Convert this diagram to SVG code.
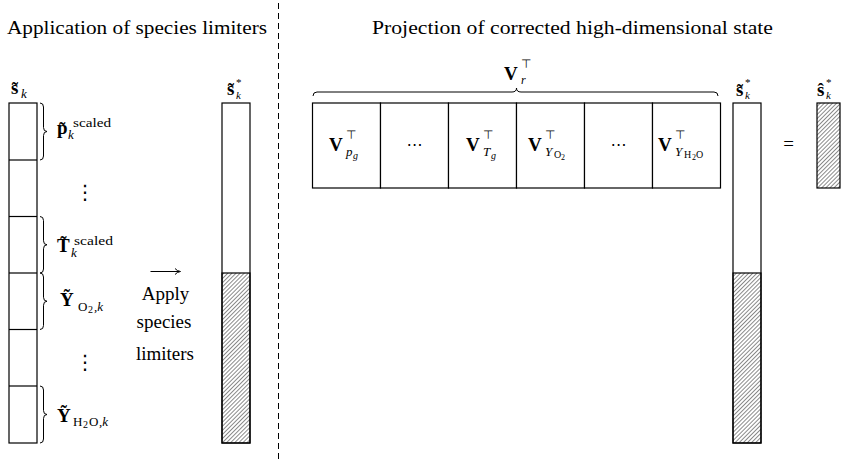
<svg xmlns="http://www.w3.org/2000/svg" width="847" height="461" viewBox="0 0 847 461">
<defs>
<pattern id="hatch" patternUnits="userSpaceOnUse" width="2.9" height="2.9" patternTransform="rotate(45)">
<line x1="0" y1="0" x2="0" y2="2.9" stroke="#000" stroke-width="0.9"/>
</pattern>
<style>
text{fill:#000}
.ti{font-size:19px}
.b{font-weight:bold;font-size:19px}
.i{font-style:italic}
.sm{font-size:13px}
.st{font-size:11px}
.xs{font-size:10px}
.xxs{font-size:8px}
.sym{font-family:"DejaVu Sans",sans-serif;font-size:12px}
.box{fill:#fff;stroke:#000;stroke-width:1.2}
.br{fill:none;stroke:#000;stroke-width:1}
</style>
</defs>
<rect width="847" height="461" fill="#fff"/>

<g font-family="Liberation Serif, DejaVu Serif, serif">

<g id="titles">
<text class="ti" x="7" y="34" textLength="260" lengthAdjust="spacingAndGlyphs">Application of species limiters</text>
<text class="ti" x="372" y="34" textLength="401" lengthAdjust="spacingAndGlyphs">Projection of corrected high-dimensional state</text>
</g>

<g id="divider">
<line x1="278.5" y1="3" x2="278.5" y2="461" stroke="#000" stroke-width="1" stroke-dasharray="6,4"/>
</g>

<g id="s-tilde-k">
<rect class="box" x="9" y="103" width="28" height="340"/>
<line x1="9" y1="160" x2="37" y2="160" stroke="#000" stroke-width="1.2"/>
<line x1="9" y1="216.5" x2="37" y2="216.5" stroke="#000" stroke-width="1.2"/>
<line x1="9" y1="273" x2="37" y2="273" stroke="#000" stroke-width="1.2"/>
<line x1="9" y1="329.5" x2="37" y2="329.5" stroke="#000" stroke-width="1.2"/>
<line x1="9" y1="386" x2="37" y2="386" stroke="#000" stroke-width="1.2"/>
<text><tspan class="b" x="11" y="94">s̃</tspan><tspan class="i sm" x="21" y="98">k</tspan></text>
</g>

<g id="braces-left">
<path class="br" d="M40,103 Q43.5,103 43.5,107 L43.5,127.5 Q43.5,131.5 47,131.5 Q43.5,131.5 43.5,135.5 L43.5,156 Q43.5,160 40,160"/>
<path class="br" d="M40,216.5 Q43.5,216.5 43.5,220.5 L43.5,240.75 Q43.5,244.75 47,244.75 Q43.5,244.75 43.5,248.75 L43.5,269 Q43.5,273 40,273"/>
<path class="br" d="M40,273 Q43.5,273 43.5,277 L43.5,297.25 Q43.5,301.25 47,301.25 Q43.5,301.25 43.5,305.25 L43.5,325.5 Q43.5,329.5 40,329.5"/>
<path class="br" d="M40,386 Q43.5,386 43.5,390 L43.5,410.5 Q43.5,414.5 47,414.5 Q43.5,414.5 43.5,418.5 L43.5,439 Q43.5,443 40,443"/>
</g>

<g id="label-p">
<text><tspan class="b" x="57" y="134">p̃</tspan><tspan class="i sm" x="68" y="139">k</tspan><tspan class="sm" x="73" y="127" textLength="38" lengthAdjust="spacingAndGlyphs">scaled</tspan></text>
</g>
<g id="dots-1"><text class="sym" x="85" y="199" text-anchor="middle" style="font-size:20px">⋮</text></g>
<g id="label-T">
<text><tspan class="b" x="57" y="252">T̃</tspan><tspan class="i sm" x="71" y="257">k</tspan><tspan class="sm" x="74" y="245" textLength="39" lengthAdjust="spacingAndGlyphs">scaled</tspan></text>
</g>
<g id="label-YO2">
<text><tspan class="b" x="60" y="306">Ỹ</tspan><tspan class="sm" x="78" y="311">O</tspan><tspan class="xs" x="88" y="313">2</tspan><tspan class="i sm" x="94" y="311">,k</tspan></text>
</g>
<g id="dots-2"><text class="sym" x="85" y="369" text-anchor="middle" style="font-size:20px">⋮</text></g>
<g id="label-YH2O">
<text><tspan class="b" x="57" y="422">Ỹ</tspan><tspan class="sm" x="73" y="426">H</tspan><tspan class="xs" x="83" y="428">2</tspan><tspan class="sm" x="89" y="426">O</tspan><tspan class="i sm" x="99" y="426">,k</tspan></text>
</g>

<g id="apply">
<line x1="150.5" y1="271.5" x2="179" y2="271.5" stroke="#000" stroke-width="1"/>
<path d="M175,268.5 Q177,271 180.5,271.5 Q177,272 175,274.5" fill="none" stroke="#000" stroke-width="1"/>
<text class="ti" x="165.5" y="300" text-anchor="middle">Apply</text>
<text class="ti" x="164" y="328" text-anchor="middle">species</text>
<text class="ti" x="165" y="360" text-anchor="middle">limiters</text>
</g>

<g id="s-star-left">
<rect class="box" x="222" y="103" width="28" height="340"/>
<rect x="222" y="273" width="28" height="170" fill="url(#hatch)" stroke="#000" stroke-width="1.2"/>
<text><tspan class="b" x="227" y="95">s̃</tspan><tspan class="st" x="236" y="86">*</tspan><tspan class="i st" x="236" y="99">k</tspan></text>
</g>

<g id="Vr">
<path class="br" d="M313,96 Q313,92 317,92 L512,92 Q516.5,92 516.5,88 Q516.5,92 521,92 L714,92 Q718,92 718,96"/>
<text><tspan class="b" x="504" y="80">V</tspan><tspan class="sym" x="521" y="68">⊤</tspan><tspan class="i" style="font-size:12px" x="521" y="84">r</tspan></text>
</g>

<g id="matrix">
<rect class="box" x="312.5" y="103" width="68" height="85"/>
<rect class="box" x="380.5" y="103" width="68" height="85"/>
<rect class="box" x="448.5" y="103" width="68" height="85"/>
<rect class="box" x="516.5" y="103" width="68" height="85"/>
<rect class="box" x="584.5" y="103" width="68" height="85"/>
<rect class="box" x="652.5" y="103" width="68" height="85"/>
<g id="cell-pg">
<text><tspan class="b" x="329" y="151">V</tspan><tspan class="sym" x="346" y="139">⊤</tspan><tspan class="i sm" x="346" y="156">p</tspan><tspan class="i xs" x="353" y="159">g</tspan></text>
</g>
<g id="cell-dots1"><text class="sym" x="414.5" y="150" text-anchor="middle" style="font-size:16px">⋯</text></g>
<g id="cell-Tg">
<text><tspan class="b" x="466" y="151">V</tspan><tspan class="sym" x="483" y="139">⊤</tspan><tspan class="i sm" x="483" y="156">T</tspan><tspan class="i xs" x="491" y="159">g</tspan></text>
</g>
<g id="cell-YO2">
<text><tspan class="b" x="528" y="151">V</tspan><tspan class="sym" x="545" y="139">⊤</tspan><tspan class="i sm" x="545" y="156">Y</tspan><tspan class="xs" x="554" y="158">O</tspan><tspan class="xxs" x="561" y="160">2</tspan></text>
</g>
<g id="cell-dots2"><text class="sym" x="618.5" y="150" text-anchor="middle" style="font-size:16px">⋯</text></g>
<g id="cell-YH2O">
<text><tspan class="b" x="658" y="151">V</tspan><tspan class="sym" x="675" y="139">⊤</tspan><tspan class="i sm" x="675" y="156">Y</tspan><tspan class="xs" x="684" y="158">H</tspan><tspan class="xxs" x="692" y="160">2</tspan><tspan class="xs" x="696" y="158">O</tspan></text>
</g>
</g>

<g id="s-star-right">
<rect class="box" x="733" y="103" width="28" height="340"/>
<rect x="733" y="273" width="28" height="170" fill="url(#hatch)" stroke="#000" stroke-width="1.2"/>
<text><tspan class="b" x="736" y="96">s̃</tspan><tspan class="st" x="745" y="86">*</tspan><tspan class="i st" x="745" y="99">k</tspan></text>
</g>

<g id="equals"><text class="ti" x="788.5" y="150" text-anchor="middle">=</text></g>

<g id="s-hat">
<rect x="817" y="103" width="23" height="85" fill="url(#hatch)" stroke="#000" stroke-width="1.2"/>
<text><tspan class="b" x="817" y="96">ŝ</tspan><tspan class="st" x="826" y="86">*</tspan><tspan class="i st" x="826" y="99">k</tspan></text>
</g>

</g>
</svg>
